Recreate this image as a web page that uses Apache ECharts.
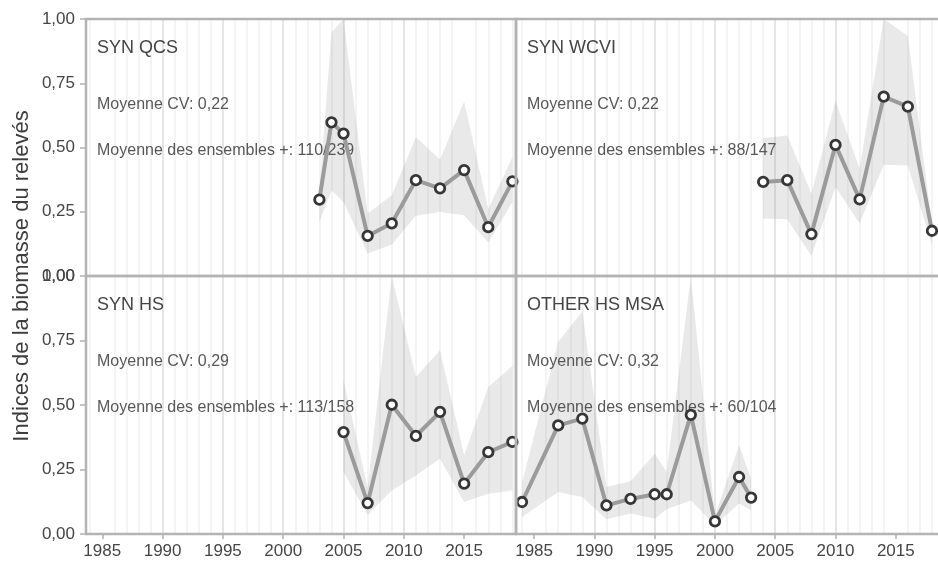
<!DOCTYPE html>
<html>
<head>
<meta charset="utf-8">
<script src="https://cdn.jsdelivr.net/npm/echarts@6/dist/echarts.min.js"></script>
<style>
  html, body { margin: 0; padding: 0; background: #ffffff; }
  #chart { width: 938px; height: 561px; }
</style>
</head>
<body>
<div id="chart"></div>
<script>
// Survey biomass indices, one panel per survey
const panelNames = ['SYN QCS', 'SYN WCVI', 'SYN HS', 'OTHER HS MSA'];
const meanCvLabels = ['Moyenne CV: 0,22', 'Moyenne CV: 0,22', 'Moyenne CV: 0,29', 'Moyenne CV: 0,32'];
const ensembleLabels = [
  'Moyenne des ensembles +: 110/239',
  'Moyenne des ensembles +: 88/147',
  'Moyenne des ensembles +: 113/158',
  'Moyenne des ensembles +: 60/104'
];
const yAxisTitle = 'Indices de la biomasse du relevés';
const xTickYears = [1985, 1990, 1995, 2000, 2005, 2010, 2015];

// SYN QCS
const synQcsYears = [2003, 2004, 2005, 2007, 2009, 2011, 2013, 2015, 2017, 2019];
const synQcsIndex = [0.297, 0.598, 0.554, 0.156, 0.205, 0.373, 0.341, 0.412, 0.190, 0.368];
const synQcsLower = [0.210, 0.333, 0.288, 0.088, 0.123, 0.234, 0.249, 0.236, 0.130, 0.288];
const synQcsUpper = [0.330, 0.947, 1.000, 0.243, 0.314, 0.540, 0.453, 0.678, 0.262, 0.462];

// SYN WCVI
const synWcviYears = [2004, 2006, 2008, 2010, 2012, 2014, 2016, 2018];
const synWcviIndex = [0.366, 0.373, 0.163, 0.510, 0.298, 0.698, 0.659, 0.176];
const synWcviLower = [0.224, 0.221, 0.079, 0.346, 0.204, 0.433, 0.430, 0.120];
const synWcviUpper = [0.536, 0.547, 0.320, 0.682, 0.417, 1.000, 0.934, 0.200];

// SYN HS
const synHsYears = [2005, 2007, 2009, 2011, 2013, 2015, 2017, 2019];
const synHsIndex = [0.395, 0.120, 0.501, 0.380, 0.473, 0.195, 0.317, 0.357];
const synHsLower = [0.240, 0.075, 0.169, 0.227, 0.292, 0.124, 0.156, 0.169];
const synHsUpper = [0.596, 0.180, 1.000, 0.609, 0.712, 0.305, 0.570, 0.651];

// OTHER HS MSA
const otherHsYears = [1984, 1987, 1989, 1991, 1993, 1995, 1996, 1998, 2000, 2002, 2003];
const otherHsIndex = [0.124, 0.421, 0.447, 0.111, 0.136, 0.154, 0.154, 0.462, 0.049, 0.221, 0.141];
const otherHsLower = [0.066, 0.163, 0.143, 0.057, 0.079, 0.059, 0.096, 0.130, 0.034, 0.118, 0.092];
const otherHsUpper = [0.200, 0.744, 0.863, 0.182, 0.204, 0.311, 0.240, 1.000, 0.072, 0.344, 0.214];

const panels = [
  { years: synQcsYears, index: synQcsIndex, lower: synQcsLower, upper: synQcsUpper },
  { years: synWcviYears, index: synWcviIndex, lower: synWcviLower, upper: synWcviUpper },
  { years: synHsYears, index: synHsIndex, lower: synHsLower, upper: synHsUpper },
  { years: otherHsYears, index: otherHsIndex, lower: otherHsLower, upper: otherHsUpper }
];

// facet layout (left column / right column, top row / bottom row)
const FONT = "'Liberation Sans', Arial, Helvetica, sans-serif";
const gridBoxes = [
  { left: 86, top: 19, width: 430, height: 257 },
  { left: 516, top: 19, width: 422, height: 257 },
  { left: 86, top: 276, width: 430, height: 258 },
  { left: 516, top: 276, width: 422, height: 258 }
];
const xExtents = [[1983.65, 2019.3], [1983.5, 2018.5], [1983.65, 2019.3], [1983.5, 2018.5]];

const fmtY = v => v.toFixed(2).replace('.', ',');
const fmtX = v => {
  const r = Math.round(v);
  return (Math.abs(v - r) < 1e-6 && xTickYears.indexOf(r) >= 0) ? String(r) : '';
};

const grid = gridBoxes.map(b => Object.assign({ containLabel: false }, b));

const xAxis = gridBoxes.map((b, i) => {
  const bottom = i >= 2;
  return {
    type: 'value', gridIndex: i,
    min: xExtents[i][0], max: xExtents[i][1], splitNumber: 7,
    axisLine: { show: false },
    axisTick: { show: bottom, length: 5, customValues: xTickYears,
      lineStyle: { color: '#b3b3b3', width: 1.5 } },
    axisLabel: { show: bottom, customValues: xTickYears, formatter: fmtX,
      color: '#454545', fontSize: 17, fontFamily: FONT, margin: 9 },
    splitLine: { show: true, showMinLine: false, showMaxLine: false,
      lineStyle: { color: '#e6e6e6', width: 2 } },
    minorTick: { show: false, splitNumber: 5 },
    minorSplitLine: { show: true, lineStyle: { color: '#f1f1f1', width: 1.5 } }
  };
});

const yAxis = gridBoxes.map((b, i) => {
  const left = i % 2 === 0;
  return {
    type: 'value', gridIndex: i, min: 0, max: 1, interval: 0.25,
    axisLine: { show: false },
    axisTick: { show: left, length: 6, lineStyle: { color: '#b3b3b3', width: 1.5 } },
    axisLabel: { show: left, formatter: fmtY, color: '#454545', fontSize: 17,
      fontFamily: FONT, margin: 11 },
    splitLine: { show: false }
  };
});

// confidence band: one polygon through all [year, lower, upper] rows
function renderBand(params, api) {
  if (params.dataIndexInside !== 0) return null;
  const n = params.dataInsideLength;
  const top = [], bottom = [];
  for (let j = 0; j < n; j++) {
    const x = api.value(0, j);
    top.push(api.coord([x, api.value(2, j)]));
    bottom.push(api.coord([x, api.value(1, j)]));
  }
  const points = top.concat(bottom.reverse());
  return {
    type: 'polygon',
    shape: { points },
    style: { fill: 'rgba(140,140,140,0.19)', stroke: 'none' }
  };
}

const series = [];
panels.forEach((p, i) => {
  series.push({
    type: 'custom', xAxisIndex: i, yAxisIndex: i,
    renderItem: renderBand, clip: true, silent: true, z: 1,
    encode: { x: 0, y: [1, 2] },
    data: p.years.map((y, k) => [y, p.lower[k], p.upper[k]])
  });
  series.push({
    type: 'line', xAxisIndex: i, yAxisIndex: i,
    data: p.years.map((y, k) => [y, p.index[k]]),
    lineStyle: { color: '#9b9b9b', width: 4 },
    symbol: 'circle', symbolSize: 9.5,
    itemStyle: { color: '#ffffff', borderColor: '#363636', borderWidth: 2.8 },
    emphasis: { disabled: true }, z: 5
  });
});

const graphic = [];
gridBoxes.forEach((b, i) => {
  // panel frame
  graphic.push({
    type: 'rect', z: 50, silent: true,
    shape: { x: b.left, y: b.top, width: (i % 2 === 1) ? b.width + 10 : b.width, height: b.height },
    style: { fill: 'none', stroke: '#b3b3b3', lineWidth: 2.5 }
  });
  // panel labels sit under the index lines
  const tx = b.left + 11;
  graphic.push({
    type: 'text', z: 2, silent: true, x: tx, y: b.top + 29,
    style: { text: panelNames[i], fill: '#444444', font: '18px ' + FONT,
      textAlign: 'left', textVerticalAlign: 'middle' }
  });
  graphic.push({
    type: 'text', z: 2, silent: true, x: tx, y: b.top + 86,
    style: { text: meanCvLabels[i], fill: '#575757', font: '16px ' + FONT,
      textAlign: 'left', textVerticalAlign: 'middle' }
  });
  graphic.push({
    type: 'text', z: 2, silent: true, x: tx, y: b.top + 132,
    style: { text: ensembleLabels[i], fill: '#575757', font: '16px ' + FONT,
      textAlign: 'left', textVerticalAlign: 'middle' }
  });
});
graphic.push({
  type: 'text', z: 60, silent: true, x: 22, y: 276, rotation: Math.PI / 2,
  style: { text: yAxisTitle, fill: '#3d3d3d', font: '22px ' + FONT,
    textAlign: 'center', textVerticalAlign: 'middle' }
});

const chart = echarts.init(document.getElementById('chart'), null, { renderer: 'canvas' });
chart.setOption({
  backgroundColor: '#ffffff',
  animation: false,
  grid, xAxis, yAxis, series, graphic
});
</script>
</body>
</html>
